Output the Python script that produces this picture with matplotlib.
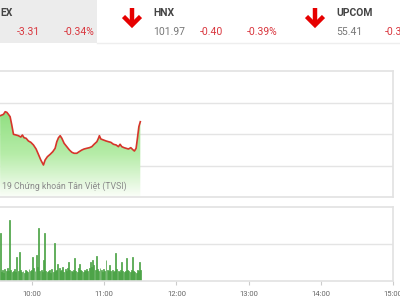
import numpy as np
import matplotlib
matplotlib.use("Agg")
import matplotlib.pyplot as plt
from matplotlib.lines import Line2D
from matplotlib.patches import Rectangle

plt.rcParams['font.family'] = ['Roboto', 'DejaVu Sans']

# price line: minutes after 9:00, index value
price_min = [33.5, 36.3, 37.7, 39.1, 40.4, 41.8, 43.2, 44.6, 46.8, 48.7, 50.7, 52.0, 53.4,
             55.1, 57.0, 59.0, 61.2, 63.4, 65.3, 67.3, 69.5, 70.9, 72.8, 75.1, 77.3, 79.2,
             80.6, 82.0, 83.4, 84.8, 86.7, 88.9, 91.1, 93.1, 95.0, 97.2, 99.2, 101.4, 103.3,
             105.5, 107.7, 109.7, 111.6, 113.9, 115.2, 116.0, 117.2, 119.4, 121.6, 123.5,
             125.5, 127.7, 129.9, 131.8, 133.2, 134.6, 136.5, 138.2, 140.1, 142.1, 143.8,
             145.1, 146.5, 147.6, 148.8, 150.0]
price_val = [972.90, 973.12, 973.54, 973.44, 973.12, 972.75, 971.43, 969.95, 969.84, 969.73,
             969.52, 969.84, 969.41, 969.32, 968.89, 968.68, 968.26, 967.62, 966.78, 965.88,
             965.08, 965.88, 966.40, 966.78, 967.20, 967.73, 968.78, 969.41, 969.73, 969.32,
             968.52, 967.99, 967.46, 967.10, 966.94, 966.94, 967.20, 967.46, 967.62, 967.73,
             967.83, 967.99, 968.37, 968.78, 969.32, 969.73, 969.21, 969.05, 968.89, 968.78,
             968.68, 968.37, 968.26, 967.99, 968.37, 967.99, 967.83, 967.73, 967.62, 967.83,
             967.51, 967.30, 967.73, 969.32, 971.16, 971.95]

# volume per minute from 9:33
vol_start = 33.5
volume = [1300, 250, 300, 220, 320, 280, 350, 260, 1650, 300, 240, 270, 330, 250, 650, 280,
          780, 300, 240, 260, 220, 310, 280, 250, 320, 270, 300, 650, 350, 260, 700, 380,
          1430, 270, 300, 250, 570, 1300, 280, 240, 260, 300, 220, 330, 250, 1030, 280, 300,
          450, 350, 260, 300, 380, 250, 320, 280, 350, 510, 300, 270, 240, 310, 620, 280,
          250, 340, 460, 300, 270, 230, 300, 260, 320, 280, 350, 510, 380, 570, 420, 300,
          680, 330, 280, 360, 300, 250, 320, 280, 570, 300, 270, 430, 260, 300, 240, 280,
          760, 320, 270, 250, 300, 510, 280, 240, 260, 620, 300, 270, 230, 300, 650, 280,
          250, 220, 300, 270, 510, 300]

tick_min = [60, 120, 180, 240, 300, 360]
tick_lab = ['10:00', '11:00', '12:00', '13:00', '14:00', '15:00']

W, H = 400, 300
fig = plt.figure(figsize=(4, 3), dpi=100)
fig.patch.set_facecolor('white')

def fx(px):
    return px / W

def fy(py):
    return 1 - py / H

xmin, xmax = 33.4, 360
grid_c = '#e4e4e4'

# header
fig.patches.append(Rectangle((0, fy(43)), fx(97), 43 / H, transform=fig.transFigure,
                             facecolor='#ececec', edgecolor='none', zorder=0))
fig.lines.append(Line2D([fx(97), 1], [fy(43), fy(43)], transform=fig.transFigure,
                        color='#eeeeee', lw=1))
dark = '#444444'
grey = '#777777'
red = '#d9363e'
fs = 7.5
fig.text(fx(0), fy(12.5), 'EX', fontsize=fs, fontweight='bold', color=dark, va='center')
fig.text(fx(17), fy(32), '-3.31', fontsize=fs, color=red, va='center')
fig.text(fx(64), fy(32), '-0.34%', fontsize=fs, color=red, va='center')
fig.text(fx(153), fy(12.5), 'HNX', fontsize=fs, fontweight='bold', color=dark, va='center')
fig.text(fx(153), fy(32), '101.97', fontsize=fs, color=grey, va='center')
fig.text(fx(200), fy(32), '-0.40', fontsize=fs, color=red, va='center')
fig.text(fx(247), fy(32), '-0.39%', fontsize=fs, color=red, va='center')
fig.text(fx(336), fy(12.5), 'UPCOM', fontsize=fs, fontweight='bold', color=dark, va='center')
fig.text(fx(336), fy(32), '55.41', fontsize=fs, color=grey, va='center')
fig.text(fx(385), fy(32), '-0.3', fontsize=fs, color=red, va='center')

# red down arrows
for ax_x in [132, 315]:
    fig.lines.append(Line2D([fx(ax_x), fx(ax_x)], [fy(8), fy(24)], transform=fig.transFigure,
                            color='#e60000', lw=3.2, solid_capstyle='butt'))
    fig.lines.append(Line2D([fx(ax_x - 8.5), fx(ax_x), fx(ax_x + 8.5)], [fy(16.5), fy(25), fy(16.5)],
                            transform=fig.transFigure, color='#e60000', lw=3.2,
                            solid_joinstyle='miter', solid_capstyle='butt'))

# price panel
ax1 = fig.add_axes([0, fy(197), fx(393), 126 / H])
ax1.set_xlim(xmin, xmax)
ax1.set_ylim(960, 980)
ax1.set_yticks([965, 970, 975])
ax1.yaxis.grid(True, color=grid_c, lw=1)
ax1.set_axisbelow(True)
ax1.set_xticks([])
ax1.tick_params(left=False, labelleft=False)
for s in ['left']:
    ax1.spines[s].set_visible(False)
for s in ['top', 'right', 'bottom']:
    ax1.spines[s].set_color('#e2e2e2')
    ax1.spines[s].set_linewidth(1.2)

# gradient fill under the line
grad = np.linspace(0, 1, 256).reshape(-1, 1)
cmap = matplotlib.colors.LinearSegmentedColormap.from_list('g', ['#fbfef9', '#b6eca8', '#8fdf80'])
poly = ax1.fill_between(price_min, price_val, 960, color='none')
img = ax1.imshow(grad, cmap=cmap, aspect='auto', origin='lower',
                 extent=[xmin, xmax, 960, max(price_val)], zorder=1)
img.set_clip_path(poly.get_paths()[0], transform=ax1.transData)
ax1.plot(price_min, price_val, color='#d6352b', lw=1.2, zorder=3)
ax1.text(fx(2) * 0 + 34.8, 960.9, '19 Chứng khoán Tân Việt (TVSI)', fontsize=6.3, color='#8a8a8a',
         va='bottom', zorder=4)

# volume panel
ax2 = fig.add_axes([0, fy(281), fx(393), 74 / H])
ax2.set_xlim(xmin, xmax)
ax2.set_ylim(0, 2000)
ax2.set_yticks([1000])
ax2.yaxis.grid(True, color=grid_c, lw=1)
ax2.set_axisbelow(True)
ax2.tick_params(left=False, labelleft=False)
ax2.spines['left'].set_visible(False)
for s in ['top', 'right', 'bottom']:
    ax2.spines[s].set_color('#e2e2e2')
    ax2.spines[s].set_linewidth(1.2)
vx = vol_start + np.arange(len(volume))
ax2.bar(vx, volume, width=0.8, color='#7ccb72', edgecolor='#3f9a3a', linewidth=0.5, zorder=2)
ax2.set_xticks(tick_min)
ax2.set_xticklabels(tick_lab)
ax2.tick_params(axis='x', length=3, width=0.8, color='#cccccc', labelsize=5.5,
                labelcolor='#666666', pad=4)

fig.savefig('out.png', dpi=100)
